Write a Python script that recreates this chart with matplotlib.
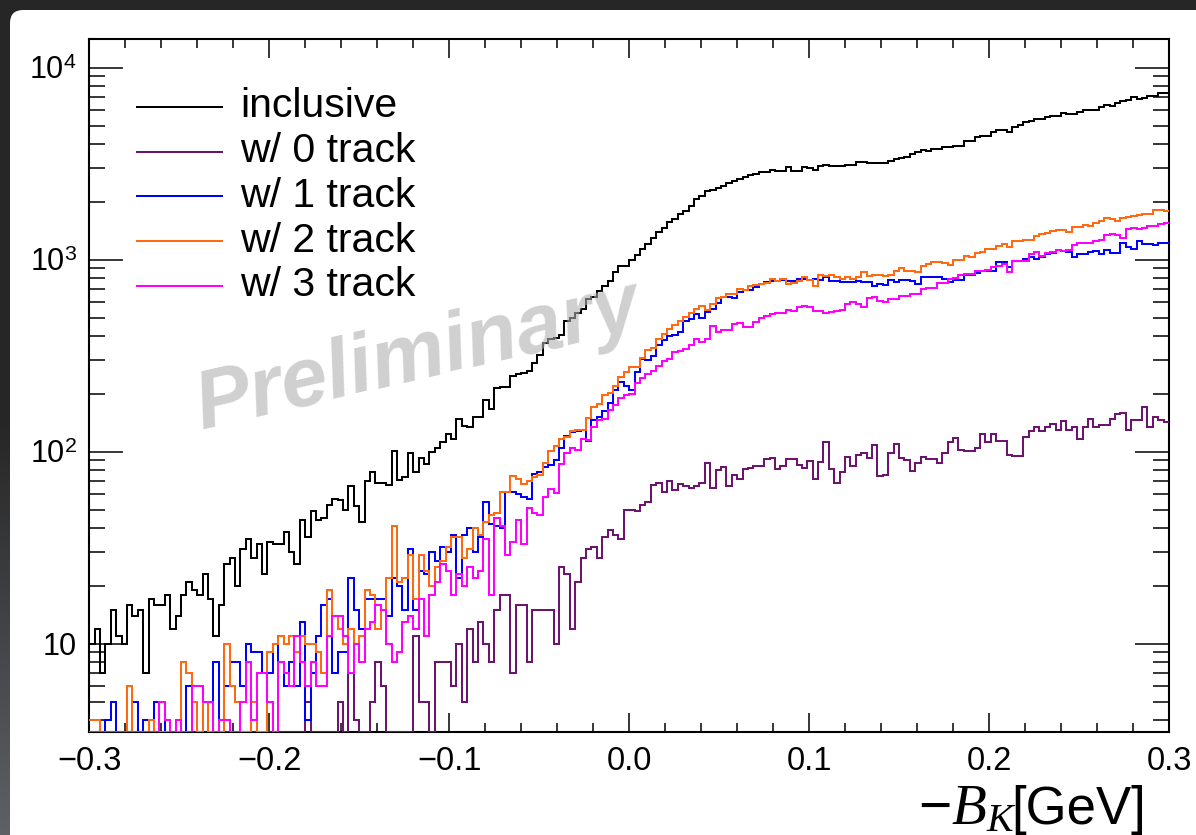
import numpy as np
import matplotlib
matplotlib.use('Agg')
import matplotlib.pyplot as plt
from matplotlib.patches import FancyBboxPatch
from matplotlib.ticker import FixedLocator, FixedFormatter, LogLocator, MultipleLocator, NullFormatter

plt.rcParams['font.family'] = ['Liberation Sans', 'DejaVu Sans']
plt.rcParams['mathtext.fontset'] = 'custom'
plt.rcParams['mathtext.rm'] = 'Liberation Sans'
plt.rcParams['mathtext.it'] = 'Liberation Serif:italic'
plt.rcParams['mathtext.bf'] = 'Liberation Sans:bold'

# 200 bins from -0.3 to 0.3 GeV
x_lo, x_hi, n_bins = -0.3, 0.3, 200

labels = ['inclusive', 'w/ 0 track', 'w/ 1 track', 'w/ 2 track', 'w/ 3 track']
colors = ['#000000', '#6d1470', '#0000ff', '#ff6a10', '#ff00ff']

inclusive = [
    10, 12, 7, 10, 15, 11, 10, 16, 14, 15,
    7, 17, 16, 16, 18, 12, 14, 18, 21, 19,
    18, 23, 17, 11, 16, 26, 28, 20, 31, 35,
    28, 33, 23, 34, 33, 33, 38, 30, 26, 44,
    36, 49, 44, 45, 53, 57, 56, 50, 66, 52,
    43, 70, 78, 69, 69, 67, 101, 71, 74, 98,
    78, 93, 86, 100, 104, 112, 123, 116, 148, 136,
    135, 152, 151, 186, 167, 214, 216, 216, 249, 255,
    256, 262, 290, 320, 368, 386, 390, 405, 480, 497,
    530, 555, 624, 640, 690, 733, 777, 859, 931, 931,
    996, 1061, 1137, 1208, 1298, 1388, 1470, 1575, 1620, 1740,
    1800, 1910, 2070, 2154, 2269, 2307, 2362, 2427, 2506, 2576,
    2630, 2685, 2762, 2795, 2850, 2850, 2933, 2885, 2885, 3050,
    2910, 2910, 3050, 2990, 2940, 3090, 3120, 3080, 3090, 3090,
    3100, 3100, 3210, 3230, 3200, 3180, 3180, 3180, 3280, 3345,
    3390, 3435, 3550, 3620, 3740, 3700, 3770, 3770, 3843, 3843,
    3925, 3925, 4170, 4170, 4375, 4430, 4430, 4605, 4740, 4740,
    4605, 4930, 5050, 5190, 5300, 5410, 5410, 5560, 5625, 5625,
    5835, 5745, 5745, 5850, 6040, 6030, 6030, 6210, 6410, 6320,
    6520, 6670, 6810, 7000, 6880, 6950, 7150, 7150, 7350, 7350]

track0 = [
    0, 0, 0, 0, 0, 0, 0, 0, 0, 0,
    0, 0, 0, 0, 0, 0, 0, 0, 0, 0,
    0, 0, 0, 0, 0, 0, 0, 0, 0, 0,
    0, 0, 0, 0, 0, 0, 0, 0, 0, 0,
    5, 0, 0, 0, 0, 0, 5, 0, 7, 4,
    0, 0, 5, 8, 6, 0, 0, 0, 0, 0,
    11, 5, 5, 0, 8, 8, 8, 6, 10, 5,
    12, 8, 13, 10, 8, 15, 18, 18, 7, 16,
    16, 8, 15, 15, 15, 15, 10, 25, 23, 12,
    21, 28, 31, 32, 28, 36, 39, 37, 35, 50,
    50, 49, 53, 55, 67, 69, 62, 70, 63, 68,
    66, 65, 66, 69, 87, 65, 80, 83, 66, 76,
    72, 81, 82, 84, 84, 92, 93, 81, 84, 92,
    92, 85, 82, 89, 72, 88, 113, 81, 69, 78,
    94, 84, 96, 99, 93, 109, 75, 76, 99, 110,
    93, 90, 79, 87, 94, 92, 92, 87, 99, 112,
    118, 102, 101, 101, 105, 124, 113, 124, 114, 114,
    96, 95, 95, 120, 128, 134, 128, 134, 139, 130,
    145, 130, 134, 116, 134, 148, 134, 137, 138, 148,
    157, 160, 130, 146, 146, 170, 134, 151, 146, 142]

track1 = [
    0, 0, 0, 4, 5, 0, 0, 0, 5, 0,
    4, 0, 5, 5, 0, 0, 0, 0, 6, 5,
    0, 0, 0, 8, 0, 6, 8, 8, 6, 10,
    9, 9, 7, 7, 10, 8, 6, 8, 6, 13,
    4, 7, 11, 16, 17, 7, 9, 9, 22, 15,
    12, 17, 17, 17, 17, 14, 22, 20, 15, 31,
    15, 24, 23, 30, 27, 32, 30, 37, 22, 37,
    40, 30, 36, 55, 42, 41, 40, 62, 62, 60,
    58, 57, 77, 78, 83, 85, 91, 104, 121, 127,
    128, 130, 114, 147, 152, 163, 180, 209, 230, 220,
    210, 260, 305, 300, 316, 360, 380, 400, 405, 421,
    480, 490, 520, 500, 532, 554, 592, 636, 636, 630,
    676, 695, 695, 718, 747, 762, 771, 771, 783, 777,
    777, 789, 792, 783, 792, 783, 809, 777, 777, 762,
    762, 762, 771, 762, 762, 733, 747, 740, 785, 762,
    783, 783, 777, 743, 809, 809, 809, 809, 792, 762,
    783, 783, 836, 836, 849, 877, 877, 877, 969, 969,
    920, 989, 989, 1009, 1029, 1009, 1037, 1071, 1080, 1123,
    1104, 1091, 1029, 1071, 1071, 1091, 1104, 1071, 1123, 1080,
    1080, 1216, 1160, 1137, 1245, 1208, 1208, 1200, 1216, 1216]

track2 = [
    4, 4, 0, 0, 0, 0, 0, 6, 0, 0,
    0, 4, 0, 0, 0, 0, 0, 8, 7, 5,
    0, 5, 0, 0, 0, 10, 6, 5, 0, 0,
    5, 0, 0, 9, 10, 11, 10, 11, 9, 11,
    10, 10, 9, 7, 19, 14, 12, 10, 12, 10,
    11, 19, 18, 12, 15, 22, 41, 21, 22, 29,
    17, 29, 24, 20, 25, 27, 32, 36, 36, 28,
    31, 40, 37, 43, 47, 48, 62, 62, 75, 72,
    68, 70, 74, 76, 87, 101, 107, 117, 120, 128,
    129, 129, 150, 170, 177, 197, 203, 220, 244, 260,
    276, 276, 307, 337, 348, 386, 410, 435, 458, 481,
    506, 525, 555, 576, 545, 588, 630, 637, 664, 664,
    700, 695, 730, 740, 750, 760, 790, 775, 790, 745,
    760, 775, 815, 780, 730, 835, 825, 835, 810, 790,
    810, 790, 810, 860, 825, 835, 835, 825, 835, 870,
    910, 870, 870, 865, 930, 950, 970, 970, 965, 940,
    1000, 1000, 1040, 1030, 1080, 1100, 1140, 1140, 1180, 1210,
    1170, 1257, 1257, 1266, 1266, 1333, 1360, 1370, 1416, 1430,
    1430, 1388, 1486, 1486, 1520, 1503, 1545, 1584, 1650, 1628,
    1596, 1650, 1660, 1694, 1715, 1730, 1740, 1815, 1815, 1790]

track3 = [
    0, 0, 0, 0, 0, 0, 0, 0, 0, 0,
    0, 0, 0, 5, 4, 0, 4, 0, 0, 6,
    6, 5, 5, 0, 4, 4, 0, 0, 5, 8,
    4, 7, 7, 5, 0, 8, 7, 6, 11, 8,
    6, 8, 6, 6, 11, 14, 14, 11, 7, 10,
    8, 12, 13, 16, 15, 10, 8, 9, 13, 14,
    12, 17, 11, 18, 21, 26, 24, 18, 23, 20,
    25, 22, 24, 35, 18, 45, 41, 29, 34, 44,
    33, 51, 48, 47, 58, 64, 61, 86, 98, 105,
    102, 116, 115, 134, 146, 148, 164, 176, 190, 198,
    200, 228, 242, 255, 264, 278, 297, 305, 331, 336,
    343, 358, 386, 371, 386, 452, 418, 428, 428, 463,
    467, 445, 445, 472, 500, 510, 520, 525, 530, 545,
    540, 566, 576, 566, 540, 540, 525, 535, 540, 545,
    588, 600, 588, 566, 630, 637, 612, 600, 625, 625,
    650, 650, 664, 660, 700, 715, 715, 760, 760, 790,
    800, 830, 840, 845, 870, 875, 880, 915, 925, 950,
    860, 985, 990, 990, 1070, 1100, 1050, 1085, 1100, 1130,
    1110, 1130, 1200, 1225, 1225, 1225, 1250, 1260, 1340, 1365,
    1340, 1300, 1440, 1470, 1440, 1455, 1490, 1490, 1530, 1545]

series = [inclusive, track0, track1, track2, track3]

xtick_vals = [-0.3, -0.2, -0.1, 0.0, 0.1, 0.2, 0.3]
xtick_labels = ['\u22120.3', '\u22120.2', '\u22120.1', '0.0', '0.1', '0.2', '0.3']
ytick_vals = [10, 100, 1000, 10000]
ytick_labels = ['10', r'$10^{2}$', r'$10^{3}$', r'$10^{4}$']
y_lo, y_hi = 3.456, 14060

W, H = 1196, 835
fig = plt.figure(figsize=(W / 100, H / 100), dpi=100)

# dark screenshot border with a grey fade on the left
bg = fig.add_axes([0, 0, 1, 1], zorder=-5)
bg.set_axis_off()
fade = np.zeros((H, 1, 3))
t = np.clip((np.arange(H) - 420) / (H - 420), 0, 1)
dark = np.array([0.15, 0.15, 0.15])
grey = np.array([0.37, 0.38, 0.40])
fade[:, 0, :] = dark + (grey - dark) * t[:, None]
bg.imshow(fade, extent=[0, 1, 0, 1], aspect='auto', origin='upper')
bg.set_xlim(0, 1)
bg.set_ylim(0, 1)
card = FancyBboxPatch((10 / W, -0.1), 1.2, 1 - 10 / H + 0.1,
                      boxstyle='round,pad=0,rounding_size=0.011',
                      mutation_aspect=W / H, fc='white', ec='none')
bg.add_patch(card)

ax_l, ax_r, ax_t, ax_b = 89.3, 1169.0, 39.3, 732.3
ax = fig.add_axes([ax_l / W, 1 - ax_b / H, (ax_r - ax_l) / W, (ax_b - ax_t) / H])
ax.set_facecolor('none')

edges = np.linspace(x_lo, x_hi, n_bins + 1)
for vals, c in zip(series, colors):
    v = np.clip(np.array(vals, dtype=float), y_lo, None)
    ax.stairs(v, edges, baseline=None, color=c, lw=1.45, zorder=3)

ax.set_yscale('log')
ax.set_xlim(x_lo, x_hi)
ax.set_ylim(y_lo, y_hi)

ax.xaxis.set_major_locator(FixedLocator(xtick_vals))
ax.xaxis.set_major_formatter(FixedFormatter(xtick_labels))
ax.xaxis.set_minor_locator(MultipleLocator(0.02))
ax.yaxis.set_major_locator(FixedLocator(ytick_vals))
ax.yaxis.set_major_formatter(FixedFormatter(ytick_labels))
ax.yaxis.set_minor_locator(LogLocator(base=10, subs=np.arange(2, 10)))
ax.yaxis.set_minor_formatter(NullFormatter())

ax.tick_params(axis='x', which='both', direction='in', top=True, bottom=True,
               labelsize=23.5, pad=10, width=1.1)
ax.tick_params(axis='x', which='major', length=13.5)
ax.tick_params(axis='x', which='minor', length=6.5)
ax.tick_params(axis='y', which='both', direction='in', left=True, right=True,
               labelsize=22, pad=9, width=1.1)
ax.tick_params(axis='y', which='major', length=24.5)
ax.tick_params(axis='y', which='minor', length=11.5)
for s in ax.spines.values():
    s.set_linewidth(1.5)

# legend, ROOT style
def fx(px):
    return (px - ax_l) / (ax_r - ax_l)

def fy(py):
    return (ax_b - py) / (ax_b - ax_t)

for k, (lab, c) in enumerate(zip(labels, colors)):
    yl = 106.7 + 44.8 * k
    ax.plot([fx(137), fx(222)], [fy(yl), fy(yl)], transform=ax.transAxes,
            color=c, lw=1.45, clip_on=False)
    ax.text(fx(240), fy(yl + 10.5), lab, transform=ax.transAxes,
            fontsize=29.5, va='baseline', ha='left')

ax.text(fx(418), fy(357), 'Preliminary', transform=ax.transAxes,
        fontsize=60, fontweight='bold', fontstyle='italic', color='#b0b0b0',
        alpha=0.6, rotation=13, ha='center', va='center', zorder=5)

# axis title: math part a bit larger, as in the ROOT canvas
fig.text(1146 / W, (H - 824) / H, '[GeV]', fontsize=38,
         ha='right', va='baseline')
fig.text(1016 / W, (H - 824) / H, r'$-B_{K}$', fontsize=41,
         ha='right', va='baseline')

fig.savefig('out.png', dpi=100)
